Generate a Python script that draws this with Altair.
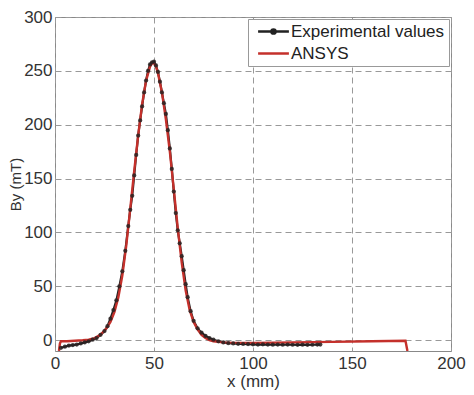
import altair as alt
import pandas as pd

# Experimental values (x in mm, By in mT)
exp_x = [3, 5, 7, 9, 11, 13, 15, 17, 19, 21, 23, 25, 26.5, 28, 29.5, 31, 32.5, 34, 35.5,
         37, 38, 39, 40, 41, 42, 43, 44, 45, 46, 47, 48, 49, 50, 51, 52, 53, 54, 55,
         56, 57, 58, 59, 60, 61, 62, 63, 64, 65, 66, 67, 68.5, 70, 72, 74, 76, 78, 80,
         82.5, 85, 87.5, 90, 92.5, 95, 97.5, 100, 102.5, 105, 107.5, 110, 112.5, 115,
         117.5, 120, 122.5, 125, 127.5, 130, 132.5, 134]
exp_y = [-7, -6, -5, -4.5, -4, -3, -2, -1, 0.5, 2, 5, 8.5, 13, 20, 28, 37, 50, 64, 83,
         106, 121, 134, 153, 172, 190, 204, 217, 230, 241, 250, 256, 258, 258.5, 255,
         249, 240, 230, 220, 210, 195, 178, 159, 138, 118, 102, 90, 78, 65, 52, 40,
         27, 18, 11, 7, 4, 2, 0.5, -1, -2, -2.8, -3, -3.3, -3.5, -3.6, -3.8, -4, -3.8,
         -4, -4.1, -4, -4.2, -4, -4.2, -4.3, -4.1, -4.3, -4.2, -4, -4]

# ANSYS simulation
ans_x = [2, 2.5, 3, 6, 10, 14, 17, 20, 22, 24, 26, 28, 30, 32, 34, 36, 38, 40, 42, 44,
         46, 48, 49, 50, 51, 52, 54, 56, 58, 60, 62, 64, 66, 68, 70, 72, 74, 76, 78, 80,
         85, 90, 100, 120, 140, 160, 177, 178]
ans_y = [-10, -3, -1, -1, -0.5, 0, 0.5, 2, 4, 7, 11, 17, 26, 40, 60, 88, 122, 157, 190,
         219, 241, 254, 257, 257, 254, 248, 230, 205, 175, 140, 104, 72, 46, 28, 17, 10,
         5, 2, 0, -1, -2, -2.5, -2.5, -2, -1.5, -1, -0.5, -10]

x_ticks = [0, 50, 100, 150, 200]
y_ticks = [0, 50, 100, 150, 200, 250, 300]

series_names = ["Experimental values", "ANSYS"]
series_colors = ["#222222", "#c4302b"]

exp_df = pd.DataFrame({"x": exp_x, "y": exp_y, "series": series_names[0]})
ans_df = pd.DataFrame({"x": ans_x, "y": ans_y, "series": series_names[1]})
all_df = pd.concat([exp_df, ans_df], ignore_index=True)

FONT = "Liberation Sans"

xscale = alt.Scale(domain=[0, 200], nice=False, zero=False)
yscale = alt.Scale(domain=[-10, 300], nice=False, zero=False)

xaxis = alt.Axis(values=x_ticks, title="x (mm)", grid=True,
                 gridDash=[6, 4], gridColor="#999999", gridWidth=1, tickSize=0,
                 labelPadding=4, titlePadding=2, domain=False, labelFlush=False,
                 labelOverlap=False)
yaxis = alt.Axis(values=y_ticks, title="By (mT)", grid=True,
                 gridDash=[6, 4], gridColor="#999999", gridWidth=1, tickSize=0,
                 labelPadding=3, titlePadding=0, titleFontSize=15, domain=False,
                 labelFlush=False, labelOverlap=False)

base_x = alt.X("x:Q", scale=xscale, axis=xaxis)
base_y = alt.Y("y:Q", scale=yscale, axis=yaxis)

exp_line = alt.Chart(exp_df).mark_line(color=series_colors[0], strokeWidth=2.2, clip=True).encode(
    x=base_x, y=base_y, order="x:Q")
ans_line = alt.Chart(ans_df).mark_line(color=series_colors[1], strokeWidth=2.4, clip=True).encode(
    x=base_x, y=base_y, order="x:Q")
exp_pts = alt.Chart(exp_df).mark_circle(color="#2a2222", size=18, opacity=0.85, clip=True).encode(
    x=base_x, y=base_y)

legend_paths = [
    "M-2.2,0H2.2M-0.3,0a0.3,0.3 0 1,0 0.6,0a0.3,0.3 0 1,0 -0.6,0",
    "M-2.2,0H2.2",
]

leg = dict(title=None, orient="top-right", offset=2,
           symbolOpacity=1, symbolSize=196, symbolStrokeWidth=2.5,
           symbolFillColor="transparent", symbolOffset=13,
           labelFontSize=17, labelFont=FONT, labelColor="#222",
           fillColor="white", strokeColor="#999", padding=4,
           rowPadding=4, labelOffset=9)

legend_layer = alt.Chart(all_df).mark_point(opacity=0, filled=False, clip=True).encode(
    x=base_x, y=base_y,
    color=alt.Color("series:N", scale=alt.Scale(domain=series_names, range=series_colors),
                    legend=alt.Legend(**leg)),
    shape=alt.Shape("series:N", scale=alt.Scale(domain=series_names, range=legend_paths),
                    legend=alt.Legend(**leg)),
)

chart = alt.layer(exp_line, ans_line, exp_pts, legend_layer).properties(
    width=396, height=334,
    padding={"left": 47, "top": 9, "right": 15, "bottom": 40},
    autosize=alt.AutoSizeParams(type="none"),
).configure_axis(
    labelFont=FONT, titleFont=FONT, labelFontSize=17, titleFontSize=17,
    labelColor="#333", titleColor="#333", titleFontWeight="normal",
).configure_view(
    stroke="#888", strokeWidth=1,
)

chart.save("out.html", embed_options={"renderer": "svg", "actions": False})
